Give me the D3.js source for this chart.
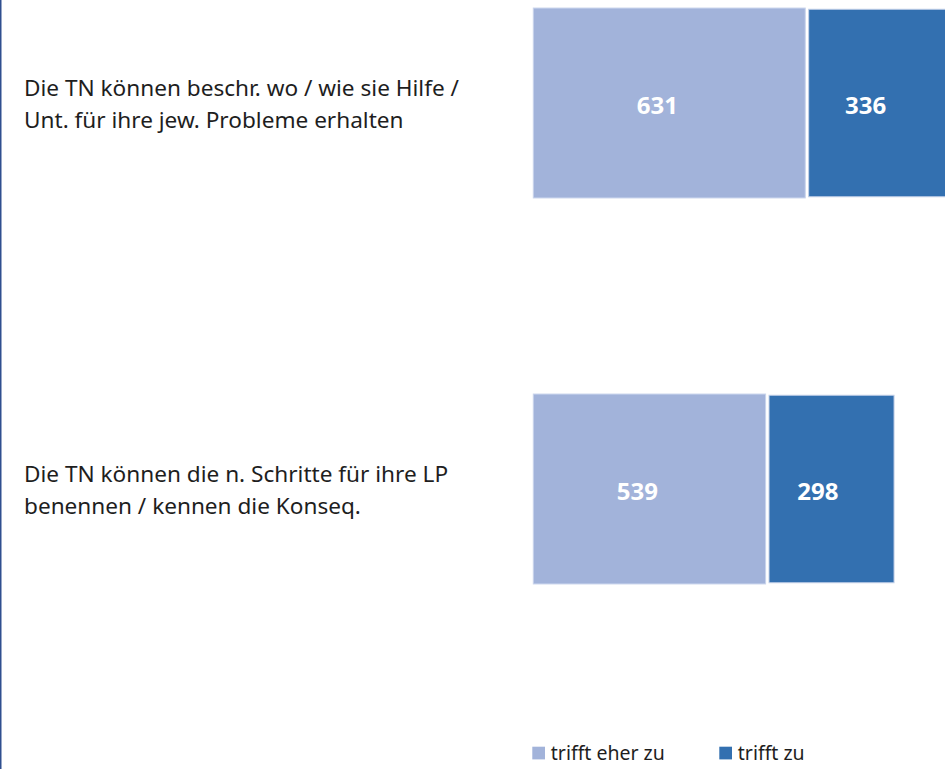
<!DOCTYPE html>
<html>
<head>
<meta charset="utf-8">
<script src="https://cdnjs.cloudflare.com/ajax/libs/d3/7.8.5/d3.min.js"></script>
<style>
  body { margin: 0; background: #fff; }
  svg { display: block; }
  text { font-family: "Noto Sans", "Open Sans", sans-serif; }
</style>
</head>
<body>
<div class="chart"></div>
<script>
var categories = [
  ["Die TN können beschr. wo / wie sie Hilfe /", "Unt. für ihre jew. Probleme erhalten"],
  ["Die TN können die n. Schritte für ihre LP", "benennen / kennen die Konseq."]
];
var seriesNames = ["trifft eher zu", "trifft zu"];
var eherZu = [631, 539],
    trifftZu = [336, 298];
var colors = ["#a2b3da", "#3370b0"];

var width = 945,
    height = 769;

var svg = d3.select(".chart").append("svg")
    .attr("width", width)
    .attr("height", height);

var x = d3.scaleLinear()
    .domain([0, 1000])
    .range([533.3, 964.3]);

var y = d3.scaleBand()
    .domain(d3.range(categories.length))
    .range([-90, 682])
    .paddingInner(0.508)
    .paddingOuter(0.254);

var rows = categories.map(function(c, i) {
  return {i: i, segs: [
    {s: 0, x0: 0, x1: eherZu[i], v: eherZu[i]},
    {s: 1, x0: eherZu[i], x1: eherZu[i] + trifftZu[i], v: trifftZu[i]}
  ]};
});

var gap = 3.4;

var row = svg.selectAll("g.row")
    .data(rows)
  .enter().append("g")
    .attr("class", "row")
    .attr("transform", function(d) { return "translate(0," + y(d.i) + ")"; });

row.selectAll("rect")
    .data(function(d) { return d.segs; })
  .enter().append("rect")
    .attr("x", function(d) { return x(d.x0) + (d.s ? gap : 0); })
    .attr("y", function(d) { return d.s ? 1.2 : 0; })
    .attr("width", function(d) { return x(d.x1) - x(d.x0) - (d.s ? gap : 0); })
    .attr("height", function(d) { return y.bandwidth() - (d.s ? 2.4 : 0); })
    .attr("fill", function(d) { return colors[d.s]; })
    .attr("stroke", function(d) { return d.s ? "#c3d0e8" : "#c9d4ec"; })
    .attr("stroke-width", 1);

row.selectAll("text.val")
    .data(function(d) { return d.segs; })
  .enter().append("text")
    .attr("class", "val")
    .attr("x", function(d) { return (x(d.x0) + x(d.x1)) / 2 - 12; })
    .attr("y", y.bandwidth() / 2 + 11)
    .attr("text-anchor", "middle")
    .attr("fill", "#fff")
    .attr("font-weight", "bold")
    .attr("font-size", 24)
    .text(function(d) { return d.v; });

row.append("text")
    .attr("class", "cat")
    .attr("x", 24)
    .attr("y", y.bandwidth() / 2 - 7)
    .attr("fill", "#1e1e1e")
    .attr("font-size", 22.6)
  .selectAll("tspan")
    .data(function(d) { return categories[d.i]; })
  .enter().append("tspan")
    .attr("x", 24)
    .attr("dy", function(d, i) { return i ? 32 : 0; })
    .text(function(d) { return d; });

// legend
var legendX = [532.3, 719.3];
var legend = svg.selectAll("g.legend")
    .data(seriesNames)
  .enter().append("g")
    .attr("class", "legend")
    .attr("transform", function(d, i) { return "translate(" + legendX[i] + ",746.7)"; });

legend.append("rect")
    .attr("width", 12.7)
    .attr("height", 12.7)
    .attr("fill", function(d, i) { return colors[i]; });

legend.append("text")
    .attr("x", 18.5)
    .attr("y", 13.5)
    .attr("fill", "#1e1e1e")
    .attr("font-size", 19.5)
    .text(function(d) { return d; });

// left border line
svg.append("line")
    .attr("x1", 0.75).attr("x2", 0.75)
    .attr("y1", 0).attr("y2", height)
    .attr("stroke", "#2f4f8f")
    .attr("stroke-width", 1.5);
</script>
</body>
</html>
